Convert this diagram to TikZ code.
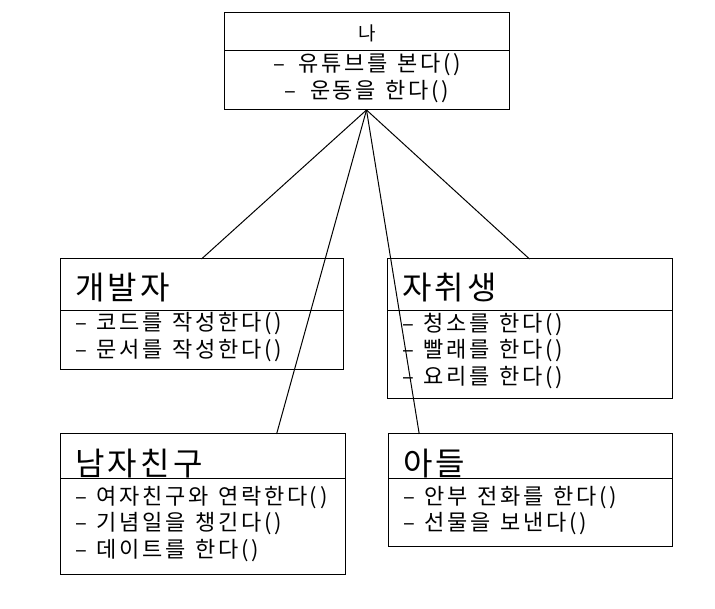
\documentclass[tikz,border=0pt]{standalone}
\usepackage{fontspec}
\setmainfont{Noto Sans CJK KR}
\newfontfamily\methodfont[LetterSpace=12, WordSpace=1.3]{Noto Sans CJK KR}
\newfontfamily\namefont[LetterSpace=10]{Noto Sans CJK KR}
\usetikzlibrary{positioning, calc}
\tikzstyle{classbox} = [draw, line width=1pt, anchor=north west, inner sep=0, outer sep=0]
\tikzstyle{classname} = [anchor=west, inner sep=0, font=\namefont\fontsize{32}{36}\selectfont]
\tikzstyle{methods} = [anchor=west, align=left, inner sep=0, font=\methodfont\fontsize{22}{26.7}\selectfont]
\tikzstyle{line} = [line width=1pt]

\begin{document}
\begin{tikzpicture}[x=1pt, y=-1pt]
        \useasboundingbox (0,0) rectangle (715,609);

        % class boxes
        \node[classbox, minimum width=285pt, minimum height=97pt] (me) at (224,13) {};
        \node[classbox, minimum width=283pt, minimum height=111pt] (dev) at (60,259) {};
        \node[classbox, minimum width=285pt, minimum height=140pt] (alone) at (387,259) {};
        \node[classbox, minimum width=285pt, minimum height=140pt] (bf) at (60,434) {};
        \node[classbox, minimum width=284pt, minimum height=112pt] (son) at (388,434) {};

        % dividers
        \draw[line] ($(me.north west)+(0,38)$) -- ($(me.north east)+(0,38)$);
        \draw[line] ($(dev.north west)+(0,52)$) -- ($(dev.north east)+(0,52)$);
        \draw[line] ($(alone.north west)+(0,52)$) -- ($(alone.north east)+(0,52)$);
        \draw[line] ($(bf.north west)+(0,44)$) -- ($(bf.north east)+(0,44)$);
        \draw[line] ($(son.north west)+(0,44)$) -- ($(son.north east)+(0,44)$);

        % names and methods
        \node[font=\fontsize{19}{22}\selectfont] (metitle) at (367,33) {나};
        \node[methods, anchor=center, align=center] (memethods) at (367,78) {– \,유튜브를 본다()\\– \,운동을 한다()};
        \node[classname] (devtitle) at (75,288) {개발자};
        \node[methods] (devmethods) at (75,337) {– 코드를 작성한다()\\– 문서를 작성한다()};
        \node[classname] (alonetitle) at (402,288) {자취생};
        \node[methods] (alonemethods) at (402,351) {– 청소를 한다()\\– 빨래를 한다()\\– 요리를 한다()};
        \node[classname] (bftitle) at (75,464) {남자친구};
        \node[methods] (bfmethods) at (75,524) {– 여자친구와 연락한다()\\– 기념일을 챙긴다()\\– 데이트를 한다()};
        \node[classname] (sontitle) at (403,464) {아들};
        \node[methods] (sonmethods) at (403,510.5) {– 안부 전화를 한다()\\– 선물을 보낸다()};

        % connectors
        \draw[line] (me.south) -- (dev.north);
        \draw[line] (me.south) -- (alone.north);
        \draw[line] (me.south) -- ($(bf.north west)!0.76!(bf.north east)$);
        \draw[line] (me.south) -- ($(son.north west)!0.11!(son.north east)$);
    \end{tikzpicture}
\end{document}
